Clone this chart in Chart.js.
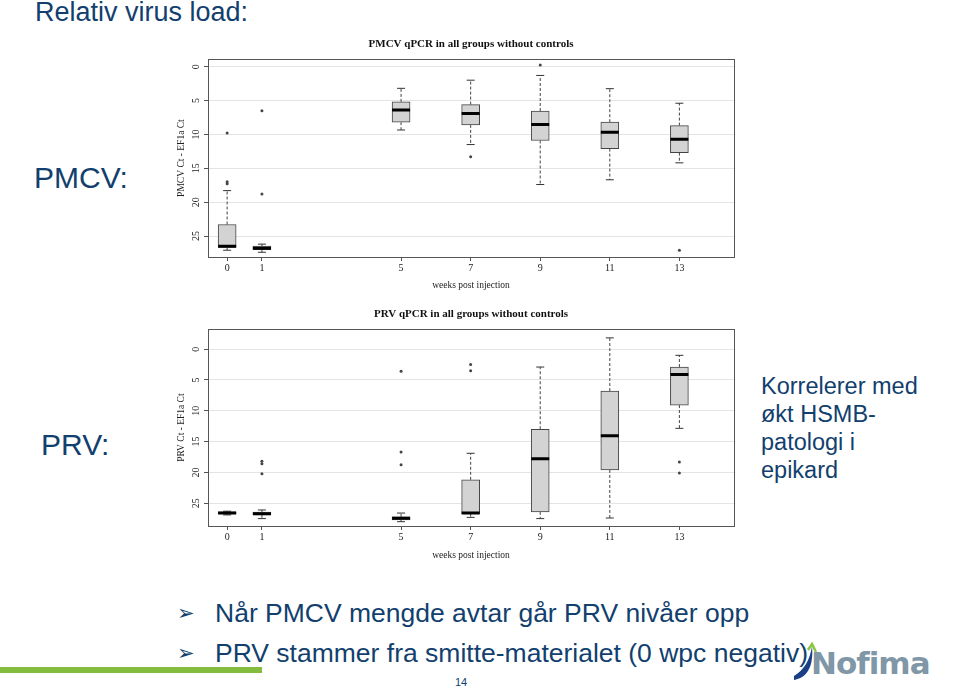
<!DOCTYPE html>
<html>
<head>
<meta charset="utf-8">
<script src="https://cdn.jsdelivr.net/npm/chart.js@4/dist/chart.umd.min.js"></script>
<style>
  body { margin: 0; background: #fff; }
  #slide { position: relative; width: 960px; height: 698px; overflow: hidden; font-family: "Liberation Sans", Arial, sans-serif; color: #123f6e; }
  .txt { position: absolute; white-space: nowrap; }
  .chartBox { position: absolute; left: 160px; width: 590px; height: 265px; }
  #greenBar { position: absolute; left: 0; top: 667px; width: 262px; height: 6px; background: #84bd3e; }
  .arrow { font-family: 'DejaVu Sans'; font-size: 21px; position: absolute; left: 0; top: 3px; }
</style>
</head>
<body>
<div id="slide">
  <div class="txt" style="left:35px; top:-3px; font-size:27px;">Relativ virus load:</div>
  <div class="txt" style="left:34px; top:161px; font-size:30px;">PMCV:</div>
  <div class="txt" style="left:41px; top:428px; font-size:30px;">PRV:</div>
  <div class="txt" style="left:761px; top:372px; font-size:23.5px; line-height:28px;">Korrelerer med<br>økt HSMB-<br>patologi i<br>epikard</div>
  <div class="txt" style="left:177px; top:598px; font-size:26.5px;"><span class="arrow">➢</span><span style="margin-left:38px;">Når PMCV mengde avtar går PRV nivåer opp</span></div>
  <div class="txt" style="left:177px; top:638px; font-size:26.5px;"><span class="arrow">➢</span><span style="margin-left:38px;">PRV stammer fra smitte-materialet (0 wpc negativ)</span></div>
  <div id="greenBar"></div>
  <div class="txt" style="left:455px; top:676px; font-size:11px;">14</div>
  <svg style="position:absolute; left:790px; top:640px;" width="30" height="45">
    <path d="M4 40 C16 38 24 28 22 6 C20 20 14 30 4 36 Z" fill="#1b3f86"/>
    <path d="M18 10 L22 4 L26 12" stroke="#8cc63f" stroke-width="2.5" fill="none"/>
  </svg>
  <div class="txt" style="left:811px; top:645px; font-size:31px; font-weight:bold; color:#7f97a6; font-family:'DejaVu Sans', sans-serif; letter-spacing:-1px;">Nofima</div>

  <div class="chartBox" style="top:30px;"><canvas id="pmcvChart"></canvas></div>
  <div class="chartBox" style="top:300px;"><canvas id="prvChart"></canvas></div>
</div>

<script>
// weeks post injection
const weeks = [0, 1, 5, 7, 9, 11, 13];
const yTicks = [0, 5, 10, 15, 20, 25];

// PMCV Ct - EF1a Ct
const pmcvMin = [18.3, 26.2, 3.2, 2.0, 1.3, 3.25, 5.4];
const pmcvQ1 = [23.3, 26.5, 5.2, 5.6, 6.55, 8.2, 8.7];
const pmcvMed = [26.5, 26.8, 6.4, 6.9, 8.55, 9.7, 10.7];
const pmcvQ3 = [26.7, 27.0, 8.2, 8.6, 10.9, 12.1, 12.7];
const pmcvMax = [27.1, 27.4, 9.35, 11.5, 17.4, 16.7, 14.2];
const pmcvOutWeek = [0, 0, 0, 1, 1, 7, 9, 13];
const pmcvOutVal = [17.0, 17.3, 9.8, 6.5, 18.8, 13.3, -0.25, 27.1];

// PRV Ct - EF1a Ct
const prvMin = [26.3, 26.1, 26.6, 16.9, 2.9, -1.83, 1.0];
const prvQ1 = [26.4, 26.45, 27.2, 21.2, 13.0, 6.8, 2.9];
const prvMed = [26.6, 26.7, 27.45, 26.6, 17.8, 14.05, 4.1];
const prvQ3 = [26.75, 26.9, 27.7, 26.7, 26.4, 19.6, 9.07];
const prvMax = [26.9, 27.5, 28.0, 27.3, 27.5, 27.4, 12.85];
const prvOutWeek = [1, 1, 1, 5, 5, 5, 7, 7, 13, 13];
const prvOutVal = [18.2, 18.6, 20.2, 3.6, 16.7, 18.75, 2.5, 3.5, 18.3, 20.1];

Chart.defaults.font.family = "'Liberation Serif', 'Times New Roman', serif";
Chart.defaults.color = '#333';

const framePlugin = {
    id: 'frame',
    afterDatasetsDraw(chart) {
        const a = chart.chartArea;
        const ctx = chart.ctx;
        ctx.save();
        ctx.strokeStyle = '#555';
        ctx.lineWidth = 1;
        ctx.strokeRect(Math.round(a.left) + 0.5, Math.round(a.top) + 0.5, Math.round(a.right - a.left), Math.round(a.bottom - a.top));
        ctx.restore();
    }
};

const makeChart = (idCanvas, title, yTitle, yMin, yMax, lo, q1, med, q3, hi, outWeek, outVal, xHeight) => {
    const whiskers = [];
    const caps = [];
    weeks.forEach((w, i) => {
        whiskers.push({x: w, y: q1[i]}, {x: w, y: lo[i]}, {x: w, y: null});
        whiskers.push({x: w, y: q3[i]}, {x: w, y: hi[i]}, {x: w, y: null});
        caps.push({x: w, y: lo[i]}, {x: w, y: hi[i]});
    });

    new Chart(document.getElementById(idCanvas), {
        type: 'bar',
        data: {
            datasets: [
                {
                    type: 'scatter', order: 0,
                    data: weeks.map((w, i) => ({x: w, y: med[i]})),
                    pointStyle: 'line', radius: 9, borderWidth: 3, borderColor: '#000'
                },
                {
                    type: 'scatter', order: 1,
                    data: outWeek.map((w, i) => ({x: w, y: outVal[i]})),
                    pointStyle: 'circle', radius: 1.5, borderWidth: 0, backgroundColor: '#444'
                },
                {
                    type: 'bar', order: 2,
                    data: weeks.map((w, i) => ({x: w, y: [q1[i], q3[i]]})),
                    backgroundColor: '#d3d3d3', borderColor: '#444', borderWidth: 1,
                    borderSkipped: false, barThickness: 18
                },
                {
                    type: 'scatter', order: 3,
                    data: caps,
                    pointStyle: 'line', radius: 4, borderWidth: 1, borderColor: '#333'
                },
                {
                    type: 'line', order: 4,
                    data: whiskers,
                    borderColor: '#444', borderWidth: 1, borderDash: [3, 2],
                    pointRadius: 0, spanGaps: false
                }
            ]
        },
        options: {
            responsive: true,
            maintainAspectRatio: false,
            animation: false,
            layout: { padding: { left: 0, right: 16, top: 0, bottom: 0 } },
            plugins: {
                legend: { display: false },
                tooltip: { enabled: false },
                title: {
                    display: true, text: title, fullSize: false,
                    color: '#111',
                    font: { size: 11, weight: 'bold' },
                    padding: { top: 8, bottom: 8 }
                }
            },
            scales: {
                x: {
                    type: 'linear', min: -0.55, max: 14.57, offset: false,
                    afterBuildTicks: axis => { axis.ticks = weeks.map(v => ({value: v})); },
                    afterFit: s => { s.height = xHeight; },
                    grid: { display: true, drawOnChartArea: false, offset: false, tickLength: 4, tickColor: '#555' },
                    border: { display: false },
                    ticks: { font: { size: 10 }, padding: 1, maxRotation: 0, color: '#222' },
                    title: { display: true, text: 'weeks post injection', font: { size: 9.5 }, padding: 4, color: '#222' }
                },
                y: {
                    reverse: true, min: yMin, max: yMax,
                    afterBuildTicks: axis => { axis.ticks = yTicks.map(v => ({value: v})); },
                    afterFit: s => { s.width = 48; },
                    grid: { color: '#e4e4e4', tickLength: 4, tickColor: '#555' },
                    border: { display: false },
                    ticks: { font: { size: 10 }, padding: 3, minRotation: 90, maxRotation: 90, crossAlign: 'center', color: '#222' },
                    title: { display: true, text: yTitle, font: { size: 9.5 }, padding: 16, color: '#222' }
                }
            }
        },
        plugins: [framePlugin]
    });
};

makeChart('pmcvChart', 'PMCV qPCR in all groups without controls', 'PMCV Ct - EF1a Ct', -1.1, 28.1,
    pmcvMin, pmcvQ1, pmcvMed, pmcvQ3, pmcvMax, pmcvOutWeek, pmcvOutVal, 38);
makeChart('prvChart', 'PRV qPCR in all groups without controls', 'PRV Ct - EF1a Ct', -3.24, 28.7,
    prvMin, prvQ1, prvMed, prvQ3, prvMax, prvOutWeek, prvOutVal, 39);
</script>
</body>
</html>
